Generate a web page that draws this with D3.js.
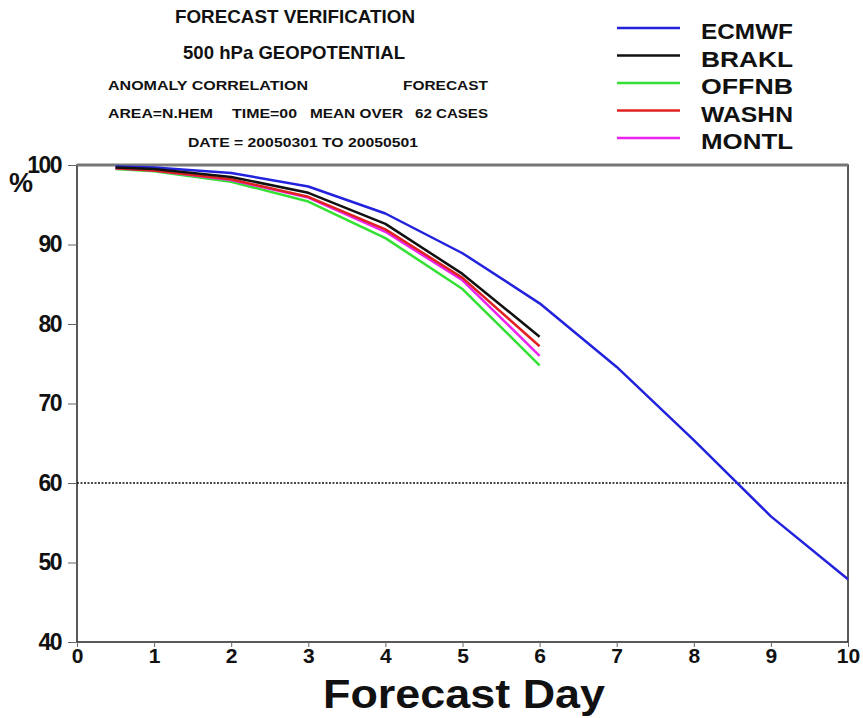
<!DOCTYPE html>
<html>
<head>
<meta charset="utf-8">
<script src="https://cdn.jsdelivr.net/npm/d3@7"></script>
<style>
  body { margin: 0; background: #fff; }
  text { font-family: "Liberation Sans", Arial, sans-serif; font-weight: bold; fill: #111; }
</style>
</head>
<body>
<div id="chart"></div>
<script>
"use strict";

// === Data ===
const days = [0.5, 1, 2, 3, 4, 5, 6, 7, 8, 9, 10];
const ecmwf = [99.8, 99.7, 99.0, 97.3, 93.9, 88.9, 82.6, 74.6, 65.4, 55.8, 47.9];
const brakl = [99.7, 99.5, 98.5, 96.5, 92.6, 86.3, 78.4];
const offnb = [99.5, 99.2, 97.9, 95.4, 90.8, 84.4, 74.8];
const washn = [99.6, 99.3, 98.2, 96.0, 91.9, 85.8, 77.2];
const montl = [99.6, 99.3, 98.1, 95.9, 91.6, 85.5, 76.0];

const seriesNames = ["ECMWF", "BRAKL", "OFFNB", "WASHN", "MONTL"];
const seriesColors = ["#2222dd", "#111111", "#33e033", "#e02222", "#ee22ee"];
const seriesValues = [ecmwf, brakl, offnb, washn, montl];

const xTicks = [0, 1, 2, 3, 4, 5, 6, 7, 8, 9, 10];
const yTicks = [40, 50, 60, 70, 80, 90, 100];
const refLevel = 60;

// === SVG setup ===
const svgWidth = 863, svgHeight = 718;
const margin = { top: 165, right: 15, bottom: 76, left: 77 };

const svg = d3.select("#chart")
  .append("svg")
  .attr("width", svgWidth)
  .attr("height", svgHeight);

const xScale = d3.scaleLinear()
  .domain([0, 10])
  .range([margin.left, svgWidth - margin.right]);

const yScale = d3.scaleLinear()
  .domain([40, 100])
  .range([svgHeight - margin.bottom, margin.top]);

// === Frame ===
svg.append("rect")
  .attr("x", xScale(0))
  .attr("y", yScale(100))
  .attr("width", xScale(10) - xScale(0))
  .attr("height", yScale(40) - yScale(100))
  .attr("fill", "none")
  .attr("stroke", "#222")
  .attr("stroke-width", 1.5);

svg.append("line")
  .attr("x1", xScale(0)).attr("x2", xScale(10))
  .attr("y1", yScale(100)).attr("y2", yScale(100))
  .attr("stroke", "#777")
  .attr("stroke-width", 3);

// === Axes ===
const xAxis = svg.append("g")
  .attr("transform", `translate(0, ${yScale(40)})`)
  .call(d3.axisBottom(xScale).tickValues(xTicks).tickSize(5).tickPadding(1).tickFormat(d3.format("d")));
xAxis.select(".domain").remove();
xAxis.selectAll("line").attr("stroke", "#666");
xAxis.selectAll("text")
  .attr("font-size", "21px")
  .attr("font-family", "Liberation Sans, Arial, sans-serif")
  .attr("font-weight", "bold")
  .attr("fill", "#111");

const yAxis = svg.append("g")
  .attr("transform", `translate(${xScale(0)}, 0)`)
  .call(d3.axisLeft(yScale).tickValues(yTicks).tickSize(9).tickPadding(7));
yAxis.select(".domain").remove();
yAxis.selectAll("line").attr("stroke", "#666");
yAxis.selectAll("text")
  .attr("font-size", "23px")
  .attr("font-family", "Liberation Sans, Arial, sans-serif")
  .attr("font-weight", "bold")
  .attr("letter-spacing", "-1.5px")
  .attr("fill", "#111");

svg.append("text")
  .attr("x", 21)
  .attr("y", 192)
  .attr("text-anchor", "middle")
  .attr("font-size", "27px")
  .text("%");

svg.append("text")
  .attr("x", 323)
  .attr("y", 708)
  .attr("font-size", "40px")
  .attr("textLength", 282)
  .attr("lengthAdjust", "spacingAndGlyphs")
  .text("Forecast Day");

// === Reference line at 60% ===
svg.append("line")
  .attr("x1", xScale(0)).attr("x2", xScale(10))
  .attr("y1", yScale(refLevel)).attr("y2", yScale(refLevel))
  .attr("stroke", "#111")
  .attr("stroke-width", 1.5)
  .attr("stroke-dasharray", "2,1.5");

// === Curves ===
const line = d3.line()
  .x((d, i) => xScale(days[i]))
  .y(d => yScale(d));

const drawOrder = [0, 2, 4, 3, 1];
drawOrder.forEach(k => {
  svg.append("path")
    .datum(seriesValues[k])
    .attr("d", line)
    .attr("fill", "none")
    .attr("stroke", seriesColors[k])
    .attr("stroke-width", 2.5)
    .attr("stroke-linejoin", "round");
});

// === Legend ===
seriesNames.forEach((name, i) => {
  const ly = 28 + i * 27.5;
  svg.append("line")
    .attr("x1", 617).attr("x2", 680)
    .attr("y1", ly).attr("y2", ly)
    .attr("stroke", seriesColors[i])
    .attr("stroke-width", 2.5);
  svg.append("text")
    .attr("x", 701)
    .attr("y", ly + 11)
    .attr("font-size", "22px")
    .attr("textLength", name.length * 18.4)
    .attr("lengthAdjust", "spacingAndGlyphs")
    .text(name);
});

// === Title block ===
svg.append("text")
  .attr("x", 175).attr("y", 23)
  .attr("font-size", "19px")
  .attr("textLength", 240)
  .attr("lengthAdjust", "spacingAndGlyphs")
  .text("FORECAST VERIFICATION");

svg.append("text")
  .attr("x", 183).attr("y", 59)
  .attr("font-size", "19px")
  .attr("textLength", 222)
  .attr("lengthAdjust", "spacingAndGlyphs")
  .text("500 hPa GEOPOTENTIAL");

const small = [
  { t: "ANOMALY CORRELATION", x: 108, w: 200, y: 90 },
  { t: "FORECAST", x: 403, w: 85, y: 90 },
  { t: "AREA=N.HEM", x: 108, w: 105, y: 118 },
  { t: "TIME=00", x: 232, w: 65, y: 118 },
  { t: "MEAN OVER", x: 310, w: 93, y: 118 },
  { t: "62 CASES", x: 415, w: 73, y: 118 },
  { t: "DATE = 20050301 TO 20050501", x: 188, w: 230, y: 147 }
];
small.forEach(s => {
  svg.append("text")
    .attr("x", s.x).attr("y", s.y)
    .attr("font-size", "12.5px")
    .attr("textLength", s.w)
    .attr("lengthAdjust", "spacingAndGlyphs")
    .text(s.t);
});
</script>
</body>
</html>
